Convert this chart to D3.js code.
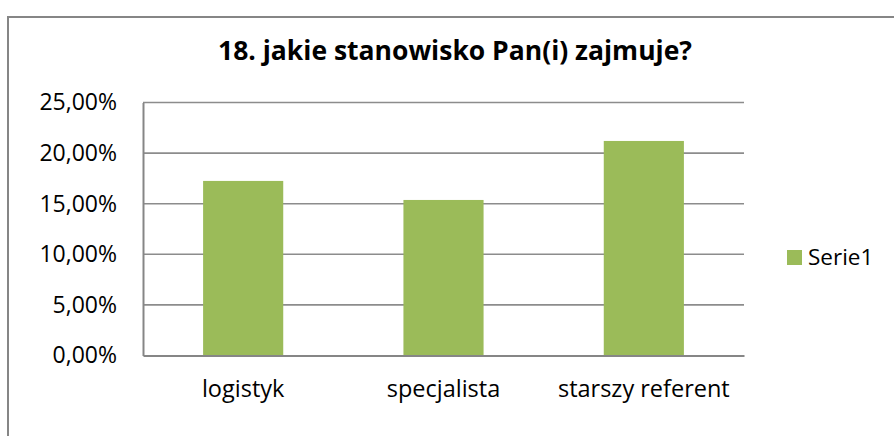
<!DOCTYPE html>
<html>
<head>
<meta charset="utf-8">
<script src="https://cdn.jsdelivr.net/npm/d3@7"></script>
<style>
  body { margin: 0; background: #fff; }
  text { font-family: "Open Sans", "Noto Sans", sans-serif; fill: #000; }
</style>
</head>
<body>
<div id="chart"></div>
<script>
// data
const categories = ["logistyk", "specjalista", "starszy referent"];
const values = [17.25, 15.37, 21.2];
const yTicks = [0, 5, 10, 15, 20, 25];
const seriesName = "Serie1";
const title = "18. jakie stanowisko Pan(i) zajmuje?";

const width = 894, height = 436;
const margin = { top: 102.5, right: 150, bottom: 80.5, left: 143 };
const w = width - margin.left - margin.right;
const h = height - margin.top - margin.bottom;

const svg = d3.select("#chart")
  .append("svg")
    .attr("width", width)
    .attr("height", height);

// chart border
svg.append("rect")
  .attr("x", 8)
  .attr("y", 17)
  .attr("width", 900)
  .attr("height", 440)
  .attr("fill", "none")
  .attr("stroke", "#868686")
  .attr("stroke-width", 2);

// title
const titleText = svg.append("text")
  .attr("x", 455)
  .attr("y", 60)
  .attr("text-anchor", "middle")
  .style("font-weight", "bold")
  .style("font-size", "26px")
  .text(title);
// fit the title to the width seen in the reference
const tw = titleText.node().getComputedTextLength();
titleText.style("font-size", (26 * 474 / tw) + "px");

const g = svg.append("g")
  .attr("transform", `translate(${margin.left},${margin.top})`);

const x = d3.scaleBand()
  .domain(categories)
  .range([0, w])
  .paddingInner(0.6)
  .paddingOuter(0.3);

const y = d3.scaleLinear()
  .domain([0, 25])
  .range([h, 0]);

// gridlines
g.selectAll(".grid")
  .data(yTicks.filter(d => d > 0))
  .enter()
  .append("line")
    .attr("x1", 0)
    .attr("x2", w)
    .attr("y1", d => y(d))
    .attr("y2", d => y(d))
    .attr("stroke", "#8c8c8c")
    .attr("stroke-width", 1.6);

// bars
g.selectAll(".bar")
  .data(values)
  .enter()
  .append("rect")
    .attr("x", (d, i) => x(categories[i]))
    .attr("y", d => y(d))
    .attr("width", x.bandwidth())
    .attr("height", d => h - y(d))
    .attr("fill", "#9bbb59");

// axes
const fmt = d => d3.format(".2f")(d).replace(".", ",") + "%";
const yAxis = g.append("g")
  .call(d3.axisLeft(y).tickValues(yTicks).tickSize(0).tickPadding(26).tickFormat(fmt));
yAxis.select(".domain").attr("stroke", "#868686").attr("stroke-width", 2);
yAxis.selectAll("text")
  .style("font-family", "'Open Sans', sans-serif")
  .style("font-size", "23px")
  .attr("fill", "#000");

const xAxis = g.append("g")
  .attr("transform", `translate(0,${h})`)
  .call(d3.axisBottom(x).tickSize(0).tickPadding(25));
xAxis.select(".domain").attr("stroke", "#868686").attr("stroke-width", 2);
xAxis.selectAll("text")
  .style("font-family", "'Open Sans', sans-serif")
  .style("font-size", "23.5px")
  .attr("fill", "#000");

// legend
const legend = svg.append("g").attr("transform", "translate(787,250)");
legend.append("rect")
  .attr("width", 15)
  .attr("height", 15)
  .attr("fill", "#9bbb59");
legend.append("text")
  .attr("x", 21)
  .attr("y", 15)
  .style("font-size", "22.5px")
  .text(seriesName);
</script>
</body>
</html>
